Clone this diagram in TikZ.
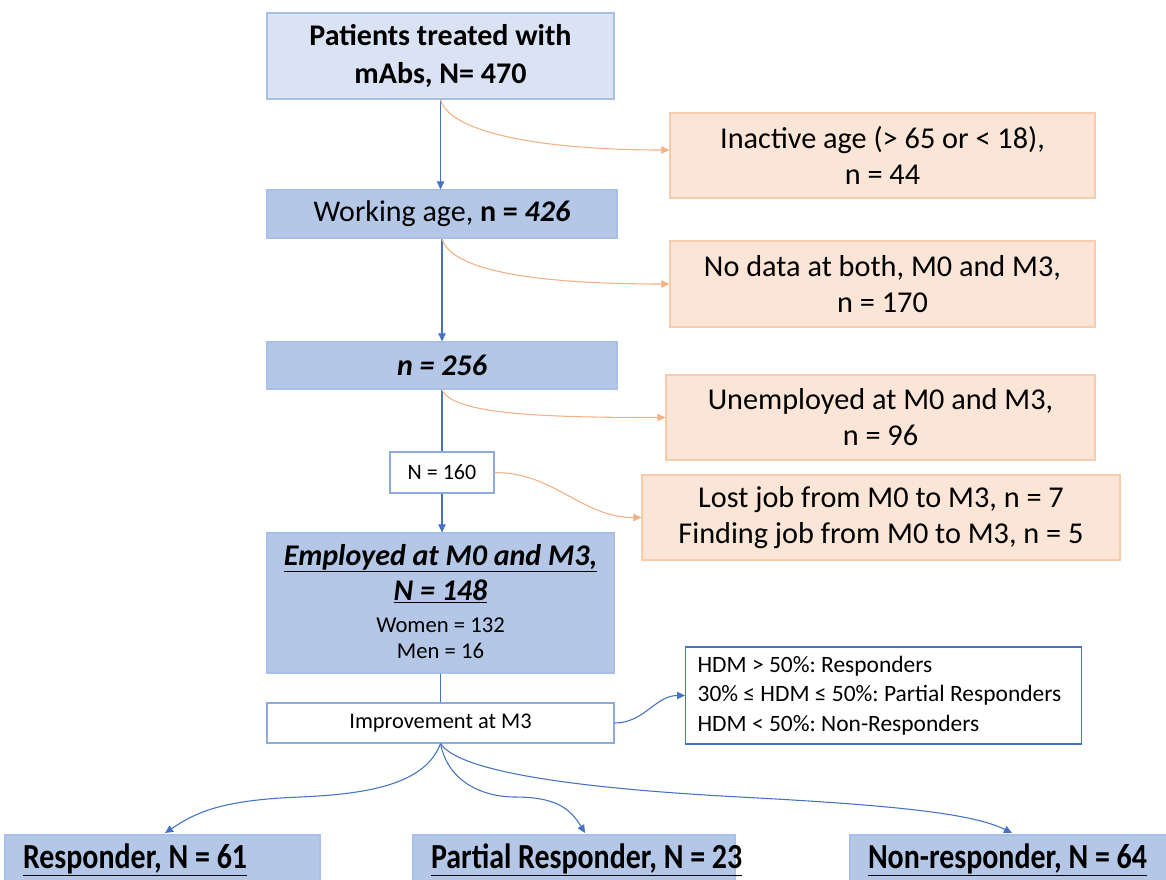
\documentclass[tikz,border=0pt]{standalone}
\usepackage{fontspec}
\setmainfont{Carlito}
\newfontfamily\condfont[FakeStretch=0.85]{Carlito}
\usetikzlibrary{arrows.meta}
\frenchspacing
\definecolor{lightfill}{HTML}{DAE3F3}
\definecolor{darkfill}{HTML}{B4C7E7}
\definecolor{blueedge}{HTML}{A9C0E6}
\definecolor{orfill}{HTML}{FBE5D6}
\definecolor{oredge}{HTML}{F8CBAD}
\definecolor{orline}{HTML}{F4B183}
\definecolor{blueline}{HTML}{4472C4}
\definecolor{whiteedge}{HTML}{8FAADC}
\begin{document}
\begin{tikzpicture}[x=0.75pt,y=-0.75pt,
  base/.style={rectangle, align=center, inner sep=0pt, line width=0.9pt, text=black},
  sz/.style 2 args={minimum width=#1*0.75pt, minimum height=#2*0.75pt},
  lbox/.style={base, fill=lightfill, draw=blueedge},
  dbox/.style={base, fill=darkfill, draw=blueedge},
  obox/.style={base, fill=orfill, draw=oredge},
  wbox/.style={base, fill=white, draw=whiteedge},
  hbox/.style={base, fill=white, draw=blueline, align=flush left},
  big/.style={font=\fontsize{22.5pt}{28.5pt}\selectfont},
  orsize/.style={font=\fontsize{22.7pt}{27pt}\selectfont},
  small/.style={font=\fontsize{16.5pt}{20pt}\selectfont},
  hsize/.style={font=\fontsize{17.6pt}{22.1pt}\selectfont},
  cond/.style={font=\condfont\bfseries\fontsize{26.4pt}{30pt}\selectfont},
  outbox/.style={dbox, cond, align=flush left, inner xsep=13.5pt, minimum height=50*0.75pt, text width=(#1-36)*0.75pt},
  tip/.style={-{Triangle[length=6pt,width=5.5pt]}},
  bconn/.style={draw=blueline, line width=0.8pt},
  oconn/.style={draw=orline, line width=0.8pt, tip},
]
\clip (0,0) rectangle (1166,879);
\fill[white] (0,0) rectangle (1166,879);

% main column
\node[lbox, sz={347}{86}, font=\bfseries\fontsize{22.5pt}{28.5pt}\selectfont] (top) at (440.5,56) {Patients treated with\\mAbs, N= 470};
\node[dbox, sz={350}{48}, big] (work) at (442,214) {Working age, \textbf{n = \textit{426}}};
\node[dbox, sz={350}{47}, big] (n256) at (442,365.5) {\textbf{\textit{n = 256}}};
\node[wbox, sz={104}{41}, small] (n160) at (442,472.5) {N = 160};
\node[dbox, sz={347}{140}] (emp) at (440.5,603) {};
\node[anchor=base, inner sep=0pt, font=\bfseries\itshape\fontsize{22.5pt}{28pt}\selectfont] (empA) at (440.5,565) {\underline{Employed at M0 and M3,}};
\node[anchor=base, inner sep=0pt, font=\bfseries\itshape\fontsize{22.5pt}{28pt}\selectfont] (empB) at (440.5,600) {\underline{N = 148}};
\node[anchor=base, inner sep=0pt, font=\fontsize{17pt}{20pt}\selectfont] (empC) at (440.5,632) {Women = 132};
\node[anchor=base, inner sep=0pt, font=\fontsize{17pt}{20pt}\selectfont] (empD) at (440.5,658) {Men = 16};
\node[wbox, sz={347}{40}, font=\fontsize{16.8pt}{20pt}\selectfont] (imp) at (440.5,723) {Improvement at M3};
\node[hbox, sz={396}{97}, hsize, anchor=west, inner xsep=9pt, text width=279pt] (hdm) at (685,695.5) {HDM > 50\%: Responders\\30\% ≤ HDM ≤ 50\%: Partial Responders\\HDM < 50\%: Non-Responders};

% exclusion boxes
\node[obox, sz={425}{85}, orsize] (inact) at (882.5,155.5) {Inactive age (> 65 or < 18),\\n = 44};
\node[obox, sz={425}{86}, orsize] (nodata) at (882.5,284) {No data at both, M0 and M3,\\n = 170};
\node[obox, sz={429}{85}, orsize] (unemp) at (880.5,417.5) {Unemployed at M0 and M3,\\n = 96};
\node[obox, sz={478}{85}, orsize] (lost) at (881,517.5) {Lost job from M0 to M3, n = 7\\Finding job from M0 to M3, n = 5};

% outcome boxes
\node[outbox=315] (resp) at (162.5,860) {\underline{Responder, N = 61}};
\node[outbox=322] (part) at (574,860) {\underline{Partial Responder, N = 23}};
\node[outbox=318] (nonr) at (1009,860) {\underline{Non-responder, N = 64}};

% blue connectors
\draw[bconn, tip] (top.south) -- (top.south |- work.north);
\draw[bconn, tip] (work.south) -- (n256.north);
\draw[bconn] (n256.south) -- (n160.north);
\draw[bconn, tip] (n160.south) -- (n160.south |- emp.north);
\draw[bconn] (emp.south) -- (imp.north);
\draw[bconn, tip] (imp.east) to[out=0, in=180] (hdm.west);
\draw[bconn, tip] (imp.south) .. controls +(-15,40) and +(70,-3) .. (300,797) .. controls +(-80,3) and +(30,-20) .. (165,833);
\draw[bconn, tip] (imp.south) .. controls +(8,40) and +(-30,0) .. (515,797) .. controls +(40,0) and +(-15,-25) .. (585,833);
\draw[bconn, tip] (imp.south) .. controls +(20,30) and +(-150,-8) .. (740,797) .. controls +(150,8) and +(-40,-20) .. (1012,833);

% orange connectors
\draw[oconn] (top.south) .. controls +(10,35) and +(-120,0) .. (inact.west |- 0,150);
\draw[oconn] (work.south) .. controls +(10,35) and +(-120,0) .. (nodata.west);
\draw[oconn] (n256.south) .. controls +(10,25) and +(-120,0) .. (unemp.west);
\draw[oconn] (n160.east) to[out=0, in=180] (lost.west);
\end{tikzpicture}
\end{document}
